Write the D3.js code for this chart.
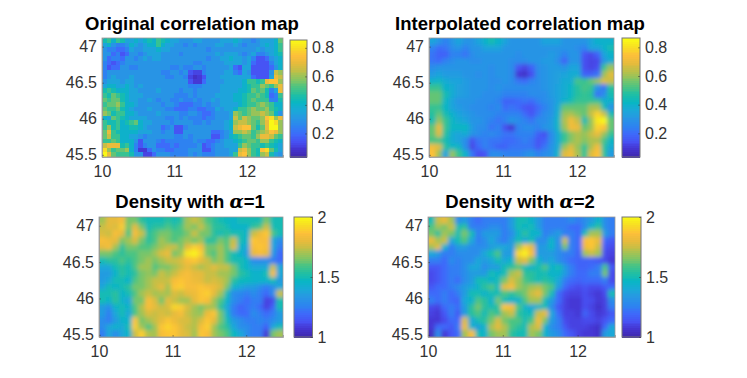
<!DOCTYPE html>
<html><head><meta charset="utf-8">
<script src="https://cdn.jsdelivr.net/npm/d3@7"></script>
<style>html,body{margin:0;padding:0;background:#fff}svg{display:block}text{font-family:"Liberation Sans",Arial,sans-serif}</style>
</head><body><div id="c"></div>
<script>
// values: correlation in hundredths, density in hundredths (100 = 1.0)
const originalRows=[
[45,50,40,50,45,35,35,40,35,40,45,40,50,45,40,35,35,30,30,30,35,35,30,30,30,30,35,35,35,40,35,30,30,25,30,35,35,35,40,55],
[35,40,30,25,25,30,40,35,30,35,40,40,50,40,35,35,30,30,25,30,25,30,30,30,30,35,35,30,30,35,30,25,30,30,30,35,40,35,40,50],
[30,25,25,20,20,25,35,30,30,35,35,35,40,35,35,30,30,30,30,30,30,30,30,25,30,30,30,30,30,30,30,30,30,30,35,30,35,35,40,50],
[30,30,20,25,15,20,30,30,25,30,35,35,35,30,30,30,30,25,30,30,30,30,30,30,30,35,30,35,35,35,30,25,30,35,25,25,30,35,40,45],
[30,20,25,25,20,30,30,25,30,35,30,35,35,30,30,30,30,30,30,30,30,30,30,25,30,30,35,35,40,35,35,30,35,25,15,15,20,30,35,40],
[25,20,15,20,25,30,30,30,30,30,30,30,30,30,30,30,30,30,30,30,25,25,30,30,30,30,30,35,35,35,35,30,35,20,15,15,15,25,35,40],
[25,15,20,20,30,30,25,25,30,30,30,30,30,30,30,25,25,30,25,25,30,30,25,30,30,30,30,30,35,20,15,35,35,15,15,15,15,20,30,40],
[25,30,30,30,30,30,30,30,30,30,30,30,30,25,25,30,30,25,30,15,12,12,25,30,30,30,30,35,35,25,20,35,30,15,15,15,15,30,65,60],
[25,30,35,30,30,30,35,30,30,30,30,30,30,30,25,25,30,30,25,12,8,10,15,30,30,30,35,35,35,35,35,35,35,20,15,15,15,35,70,65],
[30,35,35,35,30,35,35,30,30,30,30,30,30,30,30,30,30,30,30,15,10,10,20,30,30,30,30,35,35,35,35,40,50,50,45,50,70,75,75,60],
[35,40,40,35,35,40,35,30,35,30,30,30,30,30,30,30,30,30,30,25,25,25,30,30,30,30,35,35,35,35,35,40,45,50,50,60,55,50,60,70],
[45,50,45,40,40,40,35,35,30,30,30,30,35,30,30,30,30,25,30,30,25,30,30,30,30,30,35,35,35,35,40,40,45,55,50,55,45,25,35,70],
[50,45,55,50,45,40,35,35,35,30,30,30,30,30,30,30,25,25,25,30,25,30,30,30,30,35,35,35,35,40,40,45,50,50,55,50,45,20,25,50],
[55,50,55,55,45,40,35,35,30,30,35,30,25,30,30,25,25,30,25,25,30,25,30,30,35,30,35,35,35,40,40,45,50,55,50,50,50,25,25,45],
[50,55,55,60,50,40,40,35,30,30,30,30,30,25,30,30,25,20,20,20,25,25,30,25,30,30,35,35,35,35,40,45,50,50,55,60,55,50,40,40],
[55,50,50,55,45,40,35,30,30,30,35,30,30,30,25,25,20,20,20,25,25,20,20,25,25,35,30,35,35,40,50,50,55,60,55,55,60,50,45,40],
[60,55,45,50,50,40,40,35,30,30,30,30,35,30,30,30,30,25,25,30,30,25,20,20,25,30,30,30,35,60,55,50,55,60,60,65,60,55,40,30],
[40,35,55,50,45,40,35,35,35,35,30,30,30,30,25,25,30,25,30,25,25,25,20,25,25,30,30,30,35,65,55,65,60,55,55,60,75,80,60,70],
[50,45,45,50,40,45,50,55,40,35,35,30,30,30,30,25,30,30,30,30,25,25,30,25,30,30,30,35,40,60,65,65,60,55,50,60,70,85,80,60],
[50,60,45,50,40,40,45,45,40,35,30,30,30,20,25,30,15,15,25,30,30,30,30,30,30,30,30,35,40,65,70,75,75,55,45,55,70,85,85,60],
[55,70,50,45,40,40,40,40,35,35,35,30,30,25,30,30,15,15,30,30,30,30,30,30,20,20,25,30,35,60,60,65,60,50,55,60,65,75,70,60],
[55,65,50,50,40,40,35,35,30,25,30,30,30,30,30,30,25,25,30,25,30,30,30,30,15,15,25,30,40,45,50,55,55,50,60,70,70,65,55,50],
[50,50,55,50,40,40,40,30,15,30,30,30,25,20,25,25,25,25,25,25,30,25,25,20,20,25,30,35,35,40,45,50,55,55,50,60,60,50,45,40],
[65,70,70,70,45,50,40,25,15,25,30,30,20,20,20,25,20,25,25,25,25,30,15,20,25,30,30,35,35,35,50,60,55,50,50,45,50,45,40,35],
[80,60,50,55,55,60,40,25,10,10,20,30,25,25,20,20,25,25,25,30,30,30,15,15,25,30,30,30,35,35,65,70,60,50,45,75,80,55,45,35],
[85,70,55,50,50,50,45,30,30,12,12,20,30,30,30,25,25,25,25,30,25,30,25,25,25,30,30,30,35,50,70,75,60,50,45,60,65,45,35,30]
];
const interpolatedRows=[
[35,30,25,30,35,30,30,35,40,45,40,35,30,30,30,30,30,35,35,35,30,30,30,30,35,40,40,40],
[25,20,22,28,30,25,30,30,35,35,35,30,30,30,30,30,30,30,30,30,30,30,28,25,35,35,40,45],
[22,18,18,25,25,22,28,30,30,30,30,30,30,28,30,30,30,30,32,30,25,30,30,15,13,18,35,40],
[22,20,25,28,30,30,28,28,30,30,30,30,28,28,28,30,30,32,32,28,18,30,30,14,12,13,30,38],
[28,30,30,30,30,30,30,30,30,28,30,30,28,15,12,18,28,30,32,32,30,35,35,14,12,14,50,60],
[32,35,32,32,32,30,30,28,30,28,30,30,28,10,8,14,28,30,32,34,35,38,38,18,18,22,60,68],
[40,42,38,35,35,32,30,30,30,28,28,30,28,22,20,25,28,30,32,34,38,38,52,50,55,60,68,65],
[50,50,40,38,34,32,30,30,30,28,30,28,28,28,28,28,28,30,32,35,38,42,48,52,50,30,22,48],
[55,55,45,38,34,32,30,30,28,28,28,25,25,25,25,28,28,28,32,35,38,42,48,50,48,22,28,45],
[55,55,42,35,30,30,30,28,28,28,25,18,18,20,22,20,25,28,30,35,40,45,50,50,50,50,40,40],
[50,50,42,35,32,30,28,28,28,25,28,20,22,20,15,15,20,25,30,38,55,55,55,55,62,62,45,30],
[48,55,45,40,35,32,30,28,28,28,25,25,25,25,20,15,22,28,30,40,60,62,58,55,65,78,65,45],
[45,60,50,42,38,35,30,30,28,25,22,25,30,28,25,22,28,28,32,42,62,72,65,45,60,82,85,55],
[55,70,50,42,42,42,32,28,28,22,25,14,10,25,28,28,25,30,32,42,60,72,70,55,60,78,75,55],
[55,68,48,38,35,38,30,28,25,28,25,22,22,25,25,25,18,14,28,38,50,58,62,60,65,70,60,50],
[52,52,45,38,35,28,14,22,25,22,22,20,20,22,25,22,15,18,28,38,50,58,62,58,62,62,52,42],
[72,68,48,42,42,28,12,20,25,22,18,18,22,22,22,22,15,22,30,38,60,68,60,50,62,72,48,38],
[75,60,35,60,50,40,22,14,15,28,28,25,25,25,28,30,25,28,30,42,68,72,62,50,68,75,50,32]
];
const densityA1Rows=[
[170,180,180,185,165,165,155,150,150,150,155,150,155,170,175,170,160,155,150,148,145,150,150,150,150,165,150,150],
[175,180,178,190,165,180,165,150,155,155,160,155,160,170,165,175,165,155,155,150,145,145,145,155,160,175,150,150],
[178,175,185,180,160,185,175,155,160,165,165,160,160,165,175,165,165,155,150,155,150,150,145,175,182,188,160,150],
[185,182,180,165,170,178,165,155,160,170,165,160,165,170,165,170,155,155,165,160,175,150,145,188,185,185,140,130],
[180,185,170,155,165,165,160,160,165,170,175,175,165,180,190,185,165,165,170,160,178,145,140,185,188,185,140,125],
[165,165,160,155,160,160,165,165,170,178,182,165,170,195,198,190,165,160,170,160,150,145,135,180,185,180,135,120],
[150,155,155,160,155,160,165,170,165,170,175,175,178,185,188,180,175,165,170,160,150,150,145,130,130,130,125,120],
[140,140,150,155,150,160,170,170,160,165,165,170,175,180,175,170,175,180,175,175,165,150,145,140,140,140,175,140],
[135,135,145,155,150,155,165,168,165,175,170,175,182,185,180,180,175,175,170,170,165,155,150,145,145,150,185,140],
[135,140,150,150,145,160,165,170,175,175,175,185,188,185,182,180,175,178,175,170,155,148,148,145,145,145,150,135],
[140,150,145,150,155,165,165,170,175,180,170,188,190,185,185,188,185,182,178,165,145,140,135,135,130,125,130,140],
[150,150,155,145,150,160,170,175,170,172,170,178,175,180,182,188,190,180,170,150,130,128,125,130,125,120,130,175],
[150,145,155,145,140,165,165,185,178,165,180,175,170,170,180,188,185,170,160,145,130,125,120,125,125,110,112,150],
[135,130,145,150,145,160,172,185,180,175,178,192,190,178,170,165,170,170,155,140,125,118,122,125,120,110,118,150],
[135,125,140,150,140,160,170,178,175,178,175,180,185,175,170,168,182,188,165,145,125,120,120,130,125,120,125,135],
[130,125,135,145,145,188,165,170,175,180,188,182,178,178,172,178,188,180,165,150,135,130,125,125,128,125,130,135],
[130,140,145,140,150,190,170,160,170,188,192,188,180,175,172,185,190,170,160,155,140,130,130,125,125,118,140,150],
[125,140,130,140,145,175,190,172,170,185,188,188,180,178,170,188,185,170,165,160,148,140,130,125,125,108,165,170]
];
const densityA2Rows=[
[150,175,180,170,130,135,125,120,125,125,125,125,135,150,150,145,135,125,125,125,125,130,125,130,135,145,130,125],
[160,170,165,175,150,155,125,125,125,130,130,125,135,150,145,150,135,125,125,125,125,120,120,130,145,155,130,125],
[165,155,170,165,150,165,150,125,135,135,135,125,130,145,155,145,145,125,130,135,125,125,120,150,170,170,135,125],
[180,170,175,140,150,160,140,125,130,140,130,125,135,150,140,150,130,130,145,130,175,125,120,185,188,180,120,115],
[170,180,145,125,135,135,130,130,130,135,140,140,135,170,190,180,135,135,145,130,165,125,120,182,188,175,115,112],
[140,135,125,125,130,130,130,130,140,150,160,135,135,192,198,185,135,135,135,130,125,125,118,170,175,170,112,110],
[125,125,120,130,125,130,130,140,135,140,150,140,145,175,180,165,145,135,140,130,125,120,118,118,118,115,112,108],
[115,115,120,125,125,130,140,140,130,135,135,150,155,160,150,145,150,160,145,150,135,125,118,118,120,125,160,115],
[112,115,120,125,125,130,135,135,135,150,145,150,170,175,155,155,150,150,145,145,135,125,120,120,125,125,165,112],
[112,115,120,125,120,130,135,150,150,145,150,165,178,170,160,155,150,155,150,140,125,120,118,120,120,120,125,112],
[115,120,120,125,130,135,140,145,155,160,148,180,185,170,165,170,172,165,160,135,120,114,112,114,112,112,116,120],
[120,120,125,120,125,135,150,150,145,150,150,160,155,160,165,175,180,165,150,120,112,110,110,113,110,108,112,150],
[125,120,125,120,118,140,145,160,155,145,165,150,145,145,160,170,170,150,135,120,110,108,108,113,112,108,110,130],
[112,110,120,125,120,135,155,165,155,150,155,188,185,160,145,140,145,150,130,115,110,108,108,113,110,106,110,125],
[110,108,115,125,115,135,155,160,150,160,155,170,175,155,150,148,175,180,140,120,110,110,108,118,112,108,110,115],
[108,108,112,120,120,178,140,150,155,165,178,165,160,160,150,160,182,165,135,125,112,110,110,112,112,110,114,120],
[108,120,120,115,125,182,145,135,145,172,180,172,160,155,150,172,178,145,130,125,115,110,110,110,108,106,120,140],
[105,130,108,115,120,170,185,150,145,165,170,170,155,150,150,170,165,145,135,130,120,115,110,108,108,106,135,140]
];
const xTicks=[10,11,12];
const yTicks=[45.5,46,46.5,47];
const corrTicks=[20,40,60,80];
const densTicks=[100,150,200];
const parula=["#3e26a8","#4433ce","#4751f3","#3d6bfa","#2d84f0","#2797e3","#1ba8d8","#08b6c4","#1fbfa4","#4cc482","#86c562","#bcc048","#e6bb3c","#fdbf3a","#f8dc25","#f9fb15"];
const W=747,H=378;
const svg=d3.select("#c").append("svg").attr("width",W).attr("height",H);
const defs=svg.append("defs");
defs.append("filter").attr("id","smooth").attr("filterUnits","userSpaceOnUse").attr("x",0).attr("y",0).attr("width",W).attr("height",H)
  .append("feGaussianBlur").attr("stdDeviation",2.0);
const ramp=(lo,hi)=>d3.scaleLinear().domain(parula.map((_,i)=>lo+(hi-lo)*i/(parula.length-1))).range(parula).clamp(true);
const corrColor=ramp(3.5,85.5), densColor=ramp(100,200);
const panels=[
 {t:["Original correlation map"],rows:originalRows,c:corrColor,x0:102,x1:283,y0:38,y1:157,tx:192,ty:30,bx:290,bw:17,by0:40,ticks:corrTicks,fmt:v=>(v/100).toFixed(1),dom:[3.5,85.5],blur:false},
 {t:["Interpolated correlation map"],rows:interpolatedRows,c:corrColor,x0:429,x1:614,y0:38,y1:157,tx:520,ty:30,bx:622,bw:18,by0:38,ticks:corrTicks,fmt:v=>(v/100).toFixed(1),dom:[3.5,86.5],blur:true},
 {t:["Density with ","α","=1"],rows:densityA1Rows,c:densColor,x0:99,x1:283,y0:217,y1:337,tx:190,ty:208,bx:294,bw:18.5,by0:217,ticks:densTicks,fmt:v=>d3.format("~g")(v/100),dom:[100,200],blur:true},
 {t:["Density with ","α","=2"],rows:densityA2Rows,c:densColor,x0:428,x1:615,y0:217,y1:337,tx:520,ty:208,bx:622,bw:19,by0:217,ticks:densTicks,fmt:v=>d3.format("~g")(v/100),dom:[100,200],blur:true}
];
const grey="#333";
panels.forEach((p,k)=>{
  const nr=p.rows.length,nc=p.rows[0].length;
  const bx=d3.scaleBand().domain(d3.range(nc)).range([p.x0,p.x1]);
  const by=d3.scaleBand().domain(d3.range(nr)).range([p.y0,p.y1]);
  const cid="clip"+k;
  defs.append("clipPath").attr("id",cid).append("rect").attr("x",p.x0).attr("y",p.y0).attr("width",p.x1-p.x0).attr("height",p.y1-p.y0);
  const outer=svg.append("g").attr("clip-path",`url(#${cid})`);
  const g=outer.append("g").attr("shape-rendering","crispEdges");
  if(p.blur) g.attr("filter","url(#smooth)");
  const pad=p.blur?10:0;
  p.rows.forEach((row,r)=>{
    g.selectAll(null).data(row).enter().append("rect")
      .attr("x",(d,i)=>bx(i)-(i===0?pad:0))
      .attr("y",by(r)-(r===0?pad:0))
      .attr("width",(d,i)=>bx.bandwidth()+.5+(i===0||i===nc-1?pad:0))
      .attr("height",by.bandwidth()+.5+(r===0||r===nr-1?pad:0))
      .attr("fill",d=>p.c(d));
  });
  // axes
  const x=d3.scaleLinear().domain([10,12.5]).range([p.x0,p.x1]);
  const y=d3.scaleLinear().domain([45.47,47.12]).range([p.y1,p.y0]);
  const ax=svg.append("g").attr("transform",`translate(0,${p.y1})`).call(d3.axisBottom(x).tickValues(xTicks).tickFormat(d3.format("d")).tickSize(-2).tickPadding(9));
  const ay=svg.append("g").attr("transform",`translate(${p.x0},0)`).call(d3.axisLeft(y).tickValues(yTicks).tickFormat(d3.format("~g")).tickSize(-2).tickPadding(5));
  [ax,ay].forEach(a=>{a.select(".domain").attr("stroke","#999").attr("stroke-width",.8);a.selectAll("line").attr("stroke",grey).attr("stroke-width",.5);a.selectAll("text").attr("font-size",16).attr("fill",grey).style("font-family",'"Liberation Sans"');});
  svg.append("rect").attr("x",p.x0).attr("y",p.y0).attr("width",p.x1-p.x0).attr("height",p.y1-p.y0).attr("fill","none").attr("stroke","#999").attr("stroke-width",.8);
  // title
  const tt=svg.append("text").attr("x",p.tx).attr("y",p.ty).attr("text-anchor","middle").attr("font-size",18.5).attr("font-weight","bold").attr("fill","#000");
  p.t.forEach(s=>{const ts=tt.append("tspan").text(s); if(s==="α") ts.style("font-family",'"DejaVu Serif"').attr("font-style","italic");});
  // colorbar
  const cy=d3.scaleLinear().domain(p.dom).range([p.y1,p.by0]);
  const steps=d3.range(64).map(i=>p.dom[0]+(p.dom[1]-p.dom[0])*(i+.5)/64);
  const h=(p.y1-p.by0)/64;
  svg.append("g").attr("shape-rendering","crispEdges").selectAll("rect").data(steps).enter().append("rect")
    .attr("x",p.bx).attr("width",p.bw).attr("y",d=>cy(d)-h/2).attr("height",h+.5).attr("fill",d=>p.c(d));
  svg.append("rect").attr("x",p.bx).attr("y",p.by0).attr("width",p.bw).attr("height",p.y1-p.by0).attr("fill","none").attr("stroke","#777").attr("stroke-width",1);
  const ac=svg.append("g").attr("transform",`translate(${p.bx+p.bw},0)`).call(d3.axisRight(cy).tickValues(p.ticks).tickFormat(p.fmt).tickSize(-2).tickPadding(5));
  ac.select(".domain").remove();
  ac.selectAll("line").attr("stroke",grey).attr("stroke-width",.5);
  ac.selectAll("text").attr("font-size",16).attr("fill",grey).style("font-family",'"Liberation Sans"');
});
</script></body></html>
